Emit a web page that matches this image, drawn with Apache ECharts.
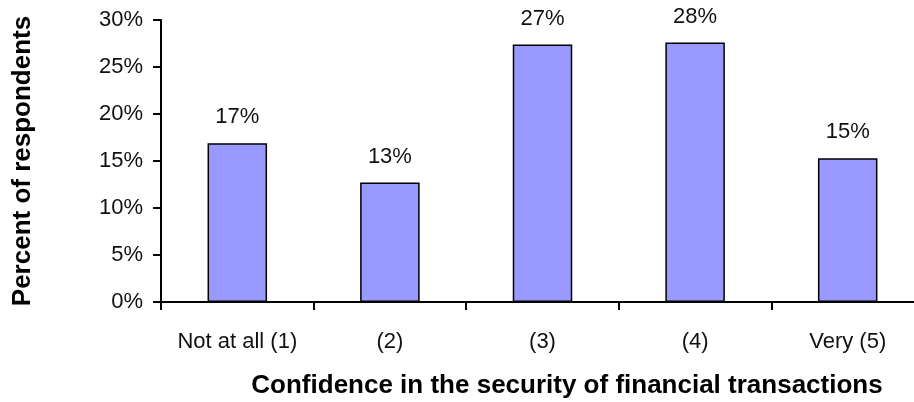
<!DOCTYPE html>
<html>
<head>
<meta charset="utf-8">
<script src="https://cdn.jsdelivr.net/npm/echarts@6/dist/echarts.min.js"></script>
<style>
  html, body { margin: 0; padding: 0; background: #fff; }
  #main { width: 914px; height: 402px; }
</style>
</head>
<body>
<div id="main"></div>
<script>
var categories = ['Not at all (1)', '(2)', '(3)', '(4)', 'Very (5)'];
var percents = [16.9, 12.7, 27.4, 27.6, 15.3];
var yTicks = [0, 5, 10, 15, 20, 25, 30];

var tickFont = '"Liberation Sans", Arial, sans-serif';
var titleFont = '"Liberation Sans", Arial, sans-serif';

var myChart = echarts.init(document.getElementById('main'));

var option = {
    animation: false,
    grid: {
        left: 161,
        width: 763,
        top: 20,
        bottom: 100,
        outerBoundsMode: 'none'
    },
    xAxis: {
        type: 'category',
        data: categories,
        axisLine: { lineStyle: { color: '#000', width: 2 } },
        axisTick: { show: true, interval: 0, length: 8, lineStyle: { color: '#000', width: 2 } },
        axisLabel: {
            interval: 0,
            color: '#111',
            fontFamily: tickFont,
            fontSize: 22,
            margin: 29
        }
    },
    yAxis: {
        type: 'value',
        min: yTicks[0],
        max: yTicks[yTicks.length - 1],
        interval: 5,
        axisLine: { show: true, lineStyle: { color: '#000', width: 2 } },
        axisTick: { show: true, length: 8, lineStyle: { color: '#000', width: 2 } },
        splitLine: { show: false },
        axisLabel: {
            color: '#111',
            fontFamily: tickFont,
            fontSize: 22,
            margin: 18,
            formatter: '{value}%'
        }
    },
    graphic: [
        {
            type: 'text',
            x: 23,
            y: 161,
            rotation: Math.PI / 2,
            style: {
                text: 'Percent of respondents',
                fontFamily: titleFont,
                fontWeight: 'bold',
                fontSize: 26,
                fill: '#000',
                align: 'center',
                verticalAlign: 'middle'
            }
        },
        {
            type: 'text',
            x: 567,
            y: 386,
            style: {
                text: 'Confidence in the security of financial transactions',
                fontFamily: titleFont,
                fontWeight: 'bold',
                fontSize: 26,
                fill: '#000',
                align: 'center',
                verticalAlign: 'middle'
            }
        }
    ],
    series: [{
        type: 'bar',
        data: percents,
        barWidth: '39%',
        itemStyle: {
            color: '#9999FF',
            borderColor: '#000',
            borderWidth: 1.5
        },
        label: {
            show: true,
            position: 'top',
            distance: 15,
            color: '#111',
            fontFamily: tickFont,
            fontSize: 22,
            formatter: function (p) { return Math.round(p.value) + '%'; }
        }
    }]
};

myChart.setOption(option);
</script>
</body>
</html>
